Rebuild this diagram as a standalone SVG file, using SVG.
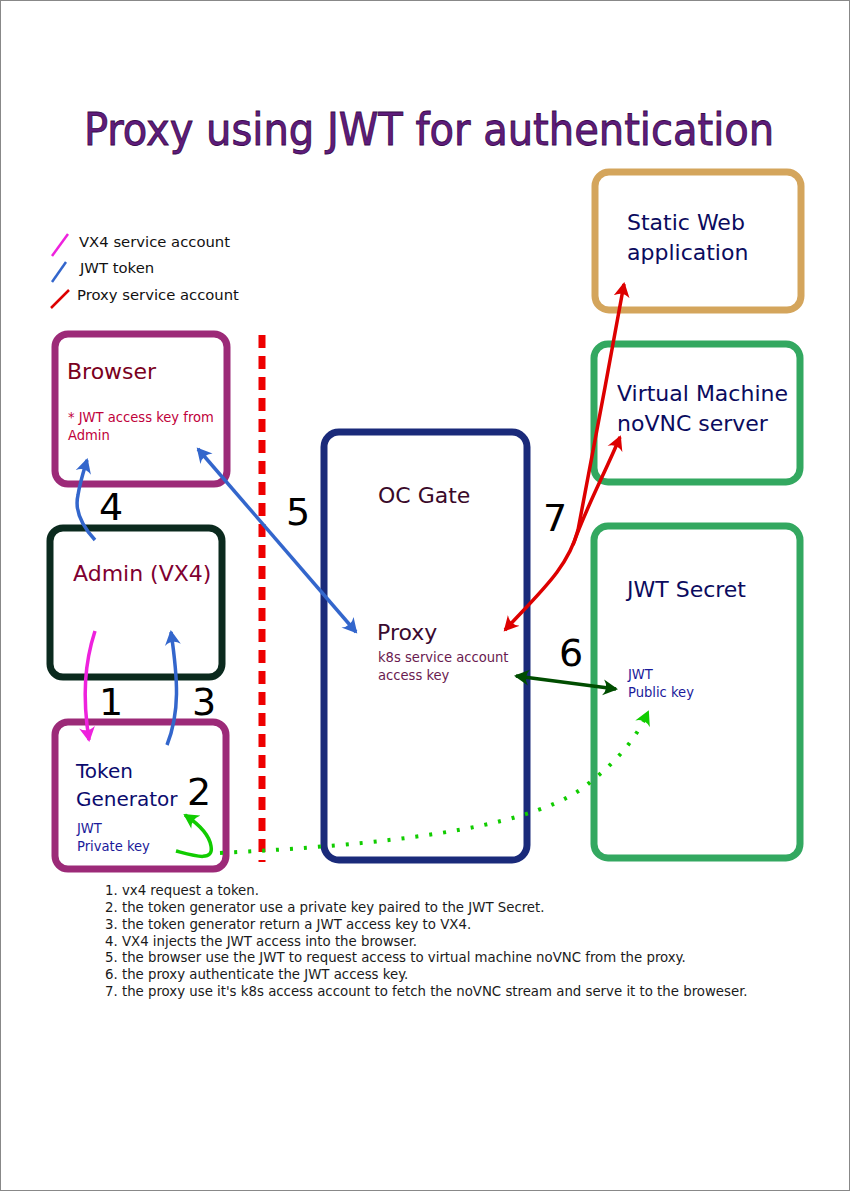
<svg xmlns="http://www.w3.org/2000/svg" width="850" height="1191" viewBox="0 0 850 1191">
<style>
.box{fill:#fff;stroke-width:7}
.t{font-family:"DejaVu Sans","Liberation Sans",sans-serif}
.c{font-family:"DejaVu Sans Condensed","DejaVu Sans","Liberation Sans",sans-serif;font-stretch:condensed}
.num{font-family:"DejaVu Sans","Liberation Sans",sans-serif;font-size:38px;fill:#000}
.list{font-size:14.8px;fill:#1a1a1a}
.blue{stroke:#3366cc;stroke-width:3.5;fill:none}
.red{stroke:#dd0000;stroke-width:3.5;fill:none}
</style>
<defs>
<marker id="ab" viewBox="-13 -9 17 18" markerWidth="17" markerHeight="18" refX="0" refY="0" orient="auto-start-reverse" markerUnits="userSpaceOnUse"><path d="M2,0 L-13,-8 Q-7,0 -13,8 Z" fill="#3366cc"/></marker>
<marker id="ar" viewBox="-13 -9 17 18" markerWidth="17" markerHeight="18" refX="0" refY="0" orient="auto-start-reverse" markerUnits="userSpaceOnUse"><path d="M2,0 L-13,-8 Q-7,0 -13,8 Z" fill="#dd0000"/></marker>
<marker id="am" viewBox="-13 -9 17 18" markerWidth="17" markerHeight="18" refX="0" refY="0" orient="auto" markerUnits="userSpaceOnUse"><path d="M2,0 L-13,-8 Q-7,0 -13,8 Z" fill="#ee22dd"/></marker>
<marker id="ag" viewBox="-13 -9 17 18" markerWidth="17" markerHeight="18" refX="0" refY="0" orient="auto" markerUnits="userSpaceOnUse"><path d="M2,0 L-13,-8 Q-7,0 -13,8 Z" fill="#11cc00"/></marker>
<marker id="adg" viewBox="-13 -9 17 18" markerWidth="17" markerHeight="18" refX="0" refY="0" orient="auto-start-reverse" markerUnits="userSpaceOnUse"><path d="M2,0 L-13,-8 Q-7,0 -13,8 Z" fill="#004d00"/></marker>
</defs>
<rect x="0.5" y="0.5" width="849" height="1190" fill="#fff" stroke="#888" stroke-width="1"/>
<text x="84" y="145" class="c" font-size="44.5" fill="#5e1c7c" stroke="#3a0a4a" stroke-width="0.8">Proxy using JWT for authentication</text>

<g id="legend">
<line x1="52" y1="256" x2="68" y2="234" stroke="#ee22dd" stroke-width="2.5"/>
<text x="79" y="247" class="t" font-size="14.8" fill="#111">VX4 service account</text>
<line x1="52" y1="282" x2="66" y2="262" stroke="#3366cc" stroke-width="2.5"/>
<text x="80" y="273" class="t" font-size="14.8" fill="#111">JWT token</text>
<line x1="51" y1="308" x2="69" y2="290" stroke="#dd0000" stroke-width="2.5"/>
<text x="77" y="300" class="t" font-size="14.8" fill="#111">Proxy service account</text>
</g>

<line id="boundary" x1="262" y1="335" x2="262" y2="862" stroke="#ee0000" stroke-width="7" stroke-dasharray="13,8"/>

<g id="browser">
<rect x="55" y="334" width="172" height="150" rx="13" class="box" stroke="#9c2a78"/>
<text x="67" y="379" class="t" font-size="22" fill="#7a0020">Browser</text>
<text x="68" y="422" class="c" font-size="14.6" fill="#c0003a">* JWT access key from</text>
<text x="68" y="440" class="c" font-size="14.6" fill="#c0003a">Admin</text>
</g>

<g id="admin">
<rect x="50" y="528" width="172" height="149" rx="13" class="box" stroke="#0b2a1e"/>
<text x="73" y="581" class="t" font-size="22" fill="#800030">Admin (VX4)</text>
</g>

<g id="tokengen">
<rect x="55" y="722" width="171" height="147" rx="13" class="box" stroke="#9c2a78"/>
<text x="76" y="778" class="t" font-size="20" fill="#0b0b6e">Token</text>
<text x="76" y="806" class="t" font-size="20" fill="#0b0b6e">Generator</text>
<text x="77" y="833" class="c" font-size="14.6" fill="#1a1a9a">JWT</text>
<text x="77" y="851" class="c" font-size="14.6" fill="#1a1a9a">Private key</text>
</g>

<g id="ocgate">
<rect x="324" y="432" width="203" height="428" rx="15" class="box" stroke="#1a2a7a"/>
<text x="378" y="503" class="t" font-size="22" fill="#3a0a2a">OC Gate</text>
<text x="377" y="640" class="t" font-size="22" fill="#3a0a30">Proxy</text>
<text x="378" y="662" class="c" font-size="14.6" fill="#6a1a50">k8s service account</text>
<text x="378" y="680" class="c" font-size="14.6" fill="#6a1a50">access key</text>
</g>

<g id="staticweb">
<rect x="595" y="172" width="206" height="138" rx="14" class="box" stroke="#d4a55c"/>
<text x="627" y="230" class="t" font-size="22" fill="#0b0b5e">Static Web</text>
<text x="627" y="260" class="t" font-size="22" fill="#0b0b5e">application</text>
</g>

<g id="vm">
<rect x="594" y="344" width="206" height="138" rx="14" class="box" stroke="#33a860"/>
<text x="617" y="401" class="t" font-size="22" fill="#0b0b5e">Virtual Machine</text>
<text x="617" y="431" class="t" font-size="22" fill="#0b0b5e">noVNC server</text>
</g>

<g id="jwtsecret">
<rect x="594" y="526" width="206" height="332" rx="14" class="box" stroke="#33a860"/>
<text x="627" y="597" class="t" font-size="22" fill="#0b0b5e">JWT Secret</text>
<text x="628" y="679" class="c" font-size="14.6" fill="#1a1a9a">JWT</text>
<text x="628" y="697" class="c" font-size="14.6" fill="#1a1a9a">Public key</text>
</g>

<g id="connectors">
<path d="M95,540 C83,527 74,512 78,495 C80,482 84,470 87,460" class="blue" marker-end="url(#ab)"/>
<path d="M198,449 L356,632" class="blue" marker-start="url(#ab)" marker-end="url(#ab)"/>
<path d="M95,631 C85,662 82,695 89,740" stroke="#ee22dd" stroke-width="3.5" fill="none" marker-end="url(#am)"/>
<path d="M167,745 C180,712 178,680 171,632" class="blue" marker-end="url(#ab)"/>
<path d="M176,851 C195,856 214,862 211,846 C209,834 197,823 185,815" stroke="#11cc00" stroke-width="3.5" fill="none" marker-end="url(#ag)"/>
<path d="M220,853 C380,845 520,830 580,790 C618,762 636,738 648,712" stroke="#11cc00" stroke-width="4" fill="none" stroke-dasharray="3,11" stroke-linecap="butt" marker-end="url(#ag)"/>
<path d="M516,676 L616,689" stroke="#004d00" stroke-width="3.5" fill="none" marker-start="url(#adg)" marker-end="url(#adg)"/>
<path d="M505,630 C540,592 568,568 578,530 C590,470 610,360 624,284" class="red" marker-start="url(#ar)" marker-end="url(#ar)"/>
<path d="M573,545 C585,510 604,475 620,437" class="red" marker-end="url(#ar)"/>
</g>

<g id="numbers">
<text x="99" y="520" class="num">4</text>
<text x="286" y="525" class="num">5</text>
<text x="543" y="531" class="num">7</text>
<text x="99" y="715" class="num">1</text>
<text x="192" y="715" class="num">3</text>
<text x="187" y="805" class="num">2</text>
<text x="559" y="666" class="num">6</text>
</g>

<g id="notes" class="c list">
<text x="105" y="895">1. vx4 request a token.</text>
<text x="105" y="912">2. the token generator use a private key paired to the JWT Secret.</text>
<text x="105" y="929">3. the token generator return a JWT access key to VX4.</text>
<text x="105" y="946">4. VX4 injects the JWT access into the browser.</text>
<text x="105" y="962">5. the browser use the JWT to request access to virtual machine noVNC from the proxy.</text>
<text x="105" y="979">6. the proxy authenticate the JWT access key.</text>
<text x="105" y="996">7. the proxy use it's k8s access account to fetch the noVNC stream and serve it to the broweser.</text>
</g>
</svg>
